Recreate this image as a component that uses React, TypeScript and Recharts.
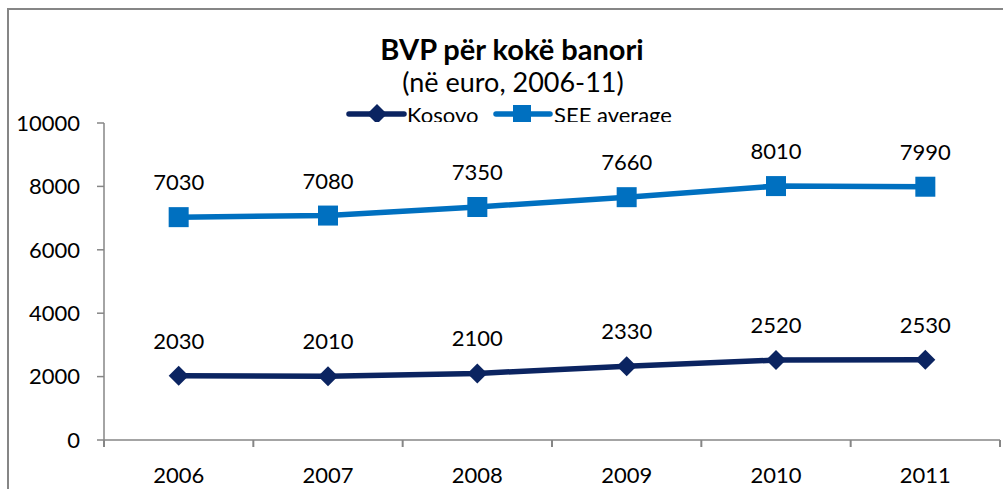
import React from 'react';
import { LineChart, Line, XAxis, YAxis, LabelList, Legend, Customized } from 'recharts';

const years = ['2006', '2007', '2008', '2009', '2010', '2011'];
const kosovo = [2030, 2010, 2100, 2330, 2520, 2530];
const seeAverage = [7030, 7080, 7350, 7660, 8010, 7990];
const yTicks = [0, 2000, 4000, 6000, 8000, 10000];

const KOSOVO_COLOR = '#0B2461';
const SEE_COLOR = '#0070C0';
const AXIS_COLOR = '#868686';
const FONT = 'Lato, "DejaVu Sans", sans-serif';

const data = years.map((y, i) => ({ year: y, kosovo: kosovo[i], see: seeAverage[i] }));

const Diamond = (props: any) => {
  const { cx, cy } = props;
  if (cx == null || cy == null) return null;
  const r = 10;
  return <path d={`M${cx},${cy - r} L${cx + r},${cy} L${cx},${cy + r} L${cx - r},${cy} Z`} fill={KOSOVO_COLOR} />;
};

const Square = (props: any) => {
  const { cx, cy } = props;
  if (cx == null || cy == null) return null;
  const s = 10;
  return <rect x={cx - s} y={cy - s} width={2 * s} height={2 * s} fill={SEE_COLOR} />;
};

const XTick = (props: any) => {
  const { x, y, payload, index, visibleTicksCount } = props;
  const half = payload && typeof payload.offset === 'number' ? payload.offset : 0;
  const isLast = index === visibleTicksCount - 1;
  return (
    <g>
      <rect x={x - half - 1} y={y} width={2} height={7} fill={AXIS_COLOR} />
      {isLast ? <rect x={x + half - 1} y={y} width={2} height={7} fill={AXIS_COLOR} /> : null}
      <text x={x} y={y + 43} textAnchor="middle" fill="#000" fontSize={22} fontFamily={FONT}>
        {payload.value}
      </text>
    </g>
  );
};

const LegendContent = () => (
  <svg width={360} height={22} style={{ display: 'block' }}>
    <line x1={9} x2={64} y1={14} y2={14} stroke={KOSOVO_COLOR} strokeWidth={5.5} strokeLinecap="round" />
    <path d={`M37,4 L47,14 L37,24 L27,14 Z`} fill={KOSOVO_COLOR} />
    <text x={67} y={23} fontSize={22} fontFamily={FONT} fill="#000">Kosovo</text>
    <line x1={156} x2={210} y1={14} y2={14} stroke={SEE_COLOR} strokeWidth={5.5} strokeLinecap="round" />
    <rect x={173} y={5} width={18} height={18} fill={SEE_COLOR} />
    <text x={214} y={23} fontSize={22} fontFamily={FONT} fill="#000">SEE average</text>
  </svg>
);

const Title = () => (
  <g>
    <text x={512} y={60} textAnchor="middle" fontSize={29} fontWeight="bold" fontFamily={FONT} fill="#000">
      BVP për kokë banori
    </text>
    <text x={513} y={92} textAnchor="middle" fontSize={27} fontFamily={FONT} fill="#000">
      (në euro, 2006-11)
    </text>
  </g>
);

export default function App() {
  return (
    <div style={{ position: 'fixed', left: 0, top: 0, width: 1003, height: 489, overflow: 'hidden', background: '#fff' }}>
      <div
        style={{
          position: 'absolute',
          left: 7,
          top: 8,
          width: 1100,
          height: 600,
          border: `2px solid ${AXIS_COLOR}`,
          boxSizing: 'border-box',
        }}
      />
      <div style={{ position: 'absolute', left: 0, top: 0 }}>
        <LineChart width={1003} height={489} data={data} margin={{ top: 123, right: 3, bottom: 0, left: 0 }}>
          <Customized component={Title} />
          <XAxis
            dataKey="year"
            scale="band"
            interval={0}
            height={49}
            tick={<XTick />}
            tickLine={false}
            tickSize={0}
            tickMargin={0}
            axisLine={{ stroke: AXIS_COLOR, strokeWidth: 1.5 }}
          />
          <YAxis
            width={104}
            domain={[0, 10000]}
            ticks={yTicks}
            interval={0}
            tickSize={7}
            tickMargin={17}
            tick={{ fill: '#000', fontSize: 22, fontFamily: FONT }}
            tickLine={{ stroke: AXIS_COLOR, strokeWidth: 1.5 }}
            axisLine={{ stroke: AXIS_COLOR, strokeWidth: 1.5 }}
          />
          <Legend
            layout="vertical"
            verticalAlign="middle"
            align="center"
            content={<LegendContent />}
            wrapperStyle={{ position: 'absolute', left: 340, top: 100, width: 360, height: 22, overflow: 'hidden' }}
          />
          <Line dataKey="kosovo" name="Kosovo" stroke={KOSOVO_COLOR} strokeWidth={5.5} dot={<Diamond />} activeDot={false} isAnimationActive={false}>
            <LabelList dataKey="kosovo" position="top" offset={27} fill="#000" fontSize={22} fontFamily={FONT} />
          </Line>
          <Line dataKey="see" name="SEE average" stroke={SEE_COLOR} strokeWidth={5.5} dot={<Square />} activeDot={false} isAnimationActive={false}>
            <LabelList dataKey="see" position="top" offset={27} fill="#000" fontSize={22} fontFamily={FONT} />
          </Line>
        </LineChart>
      </div>
    </div>
  );
}
